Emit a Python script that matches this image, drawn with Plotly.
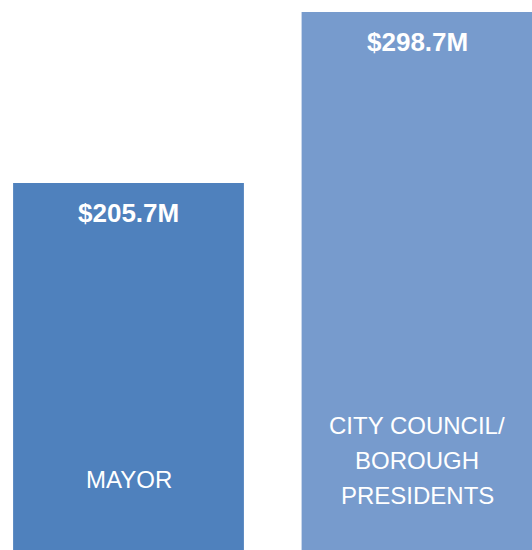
import plotly.graph_objects as go

# spending by office
categories = ["MAYOR", "CITY COUNCIL/ BOROUGH PRESIDENTS"]
category_lines = [["MAYOR"], ["CITY COUNCIL/", "BOROUGH", "PRESIDENTS"]]
values = [205.7, 298.7]
value_labels = ["$205.7M", "$298.7M"]
colors = ["#4F81BD", "#779BCD"]

FONT = "Liberation Sans, Arial, sans-serif"

fig = go.Figure()
fig.add_trace(go.Bar(
    x=[0, 1],
    y=values,
    width=0.8,
    marker=dict(color=colors, line=dict(width=0)),
    hovertext=categories,
    hoverinfo="text",
))

# value labels near the top of each bar
for i, (v, lab) in enumerate(zip(values, value_labels)):
    fig.add_annotation(x=i, y=v, yshift=-30, yanchor="middle",
                       text="<b>" + lab + "</b>", showarrow=False,
                       font=dict(family=FONT, size=26, color="white"))

# category names near the bottom, one line at a time
first_line_y = [0.129, 0.2255]
for i, lines in enumerate(category_lines):
    for k, line in enumerate(lines):
        fig.add_annotation(x=i, y=first_line_y[i], yref="paper", yanchor="middle",
                           yshift=-35 * k, text=line, showarrow=False,
                           font=dict(family=FONT, size=24, color="white"))

fig.update_layout(
    width=532, height=550,
    margin=dict(l=0, r=0, t=0, b=0),
    paper_bgcolor="white", plot_bgcolor="white",
    showlegend=False,
    xaxis=dict(range=[-0.4454, 1.3986], visible=False),
    yaxis=dict(range=[6.1, 305.2], visible=False),
)

fig.write_html("out.html", config={"displayModeBar": False},
               post_script="document.body.style.margin='0';")
